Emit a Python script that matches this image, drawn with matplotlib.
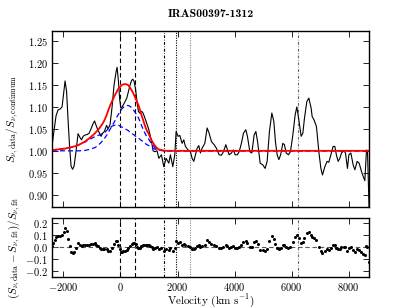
import numpy as np
import matplotlib
matplotlib.use("Agg")
import matplotlib.pyplot as plt

plt.rcParams['font.family'] = 'cmr10'
plt.rcParams['mathtext.fontset'] = 'cm'
plt.rcParams['axes.formatter.use_mathtext'] = True
plt.rcParams['axes.unicode_minus'] = True

# velocity grid of the spectrum (km/s)
vel = [-2410, -2365, -2312, -2260, -2190, -2119, -2049, -1997, -1944, -1891,
       -1839, -1786, -1733, -1681, -1628, -1558, -1488, -1418, -1365, -1312,
       -1242, -1172, -1102, -1032, -962, -909, -856, -797, -733, -681,
       -628, -565, -488, -435, -365, -295, -225, -154, -119, -74,
       -32, 11, 56, 102, 161, 221, 277, 337, 389, 432,
       477, 530, 582, 628, 670, 723, 775, 828, 881, 933,
       986, 1039, 1091, 1144, 1204, 1284, 1344, 1435, 1519, 1600,
       1695, 1751, 1835, 1905, 1951, 2021, 2081, 2162, 2221, 2277,
       2372, 2453, 2512, 2572, 2628, 2688, 2747, 2804, 2863, 2958,
       3039, 3109, 3190, 3284, 3365, 3460, 3541, 3611, 3695, 3751,
       3811, 3891, 3962, 4021, 4102, 4162, 4242, 4313, 4397, 4453,
       4537, 4607, 4688, 4748, 4811, 4899, 4993, 5074, 5144, 5225,
       5309, 5379, 5435, 5495, 5555, 5618, 5695, 5751, 5811, 5892,
       5962, 6046, 6127, 6186, 6257, 6337, 6397, 6453, 6537, 6607,
       6688, 6723, 6793, 6874, 6958, 7029, 7085, 7169, 7248, 7308,
       7379, 7459, 7519, 7575, 7635, 7695, 7751, 7836, 7892, 7962,
       8011, 8081, 8162, 8222, 8302, 8372, 8453, 8513, 8572, 8629,
       8664, 8720]

# normalised flux
flux = [1.005, 1.03, 1.055, 1.08, 1.093, 1.095, 1.10, 1.13, 1.159, 1.135,
        1.07, 1.01, 0.965, 0.958, 0.965, 1.00, 1.039, 1.03, 1.025, 1.033,
        1.036, 1.037, 1.04, 1.05, 1.062, 1.068, 1.058, 1.048, 1.04, 1.033,
        1.04, 1.044, 1.058, 1.05, 1.06, 1.10, 1.15, 1.18, 1.19, 1.16,
        1.12, 1.097, 1.10, 1.105, 1.112, 1.12, 1.135, 1.15, 1.16, 1.163,
        1.158, 1.14, 1.11, 1.09, 1.086, 1.09, 1.088, 1.08, 1.07, 1.06,
        1.05, 1.036, 1.02, 1.0, 0.998, 1.0, 0.983, 0.991, 0.964, 0.983,
        0.972, 0.991, 0.964, 0.991, 1.044, 1.033, 1.035, 1.017, 1.025, 1.01,
        1.002, 0.998, 0.983, 0.976, 0.991, 1.006, 1.012, 0.995, 1.006, 1.017,
        1.052, 1.04, 1.021, 1.014, 1.006, 0.991, 0.99, 0.998, 1.014, 1.003,
        0.991, 0.995, 1.002, 0.991, 0.991, 0.998, 1.017, 1.04, 1.048, 1.033,
        0.998, 0.995, 1.036, 1.044, 1.02, 0.972, 0.968, 0.96, 0.976, 1.044,
        1.086, 1.067, 1.021, 0.991, 0.98, 0.991, 1.017, 1.014, 0.995, 0.991,
        0.998, 1.036, 1.082, 1.10, 1.07, 1.033, 1.04, 1.074, 1.112, 1.12,
        1.097, 1.078, 1.07, 1.055, 0.998, 0.96, 0.945, 0.964, 0.976, 0.974,
        0.991, 1.01, 1.01, 0.99, 0.976, 0.983, 0.995, 1.0, 0.995, 0.96,
        0.991, 0.995, 0.968, 0.957, 0.976, 0.972, 0.953, 0.942, 0.932, 1.002,
        1.0, 0.87]

# fitted components (excess above continuum), first part of grid
narrow = [0, 0, 0, 0, 0, 0, 0, 0, 0, 0,
          0, 0, 0, 0, 0, 0, 0, 0, 0.001, 0.001,
          0.001, 0.002, 0.003, 0.004, 0.006, 0.007, 0.009, 0.012, 0.016, 0.019,
          0.023, 0.028, 0.035, 0.041, 0.049, 0.057, 0.065, 0.073, 0.078, 0.083,
          0.088, 0.092, 0.096, 0.099, 0.102, 0.103, 0.103, 0.101, 0.098, 0.095,
          0.091, 0.086, 0.080, 0.075, 0.069, 0.060, 0.052, 0.044, 0.037, 0.031,
          0.027, 0.021, 0.016, 0.012, 0.008, 0.004, 0.002, 0.001, 0, 0,
          0, 0]
broad = [0.002, 0.002, 0.002, 0.003, 0.003, 0.004, 0.004, 0.005, 0.005, 0.006,
         0.007, 0.007, 0.008, 0.009, 0.010, 0.011, 0.013, 0.015, 0.016, 0.018,
         0.020, 0.023, 0.025, 0.028, 0.030, 0.032, 0.034, 0.035, 0.036, 0.038,
         0.039, 0.041, 0.046, 0.050, 0.054, 0.056, 0.058, 0.059, 0.058, 0.058,
         0.057, 0.055, 0.054, 0.052, 0.050, 0.048, 0.046, 0.042, 0.040, 0.038,
         0.036, 0.033, 0.031, 0.029, 0.027, 0.024, 0.022, 0.019, 0.016, 0.014,
         0.012, 0.010, 0.008, 0.006, 0.004, 0.002, 0.001, 0.001, 0.0005, 0,
         0, 0]

# marked velocities: (position, linestyle, colour)
dashdot = (0, (2.5, 1.5, 0.6, 1.5))
vlines = [(0, (0, (4, 2.5)), 'k'), (523, (0, (4, 2.5)), 'k'),
          (1540, dashdot, 'k'), (1940, (0, (1, 1.2)), 'k'),
          (2432, (0, (1, 1.2)), '0.55'), (6222, dashdot, '0.4')]

vel = np.array(vel, dtype=float)
flux = np.array(flux)
comp1 = np.ones_like(vel)
comp2 = np.ones_like(vel)
comp1[:len(narrow)] += np.array(narrow)
comp2[:len(broad)] += np.array(broad)
model = comp1 + comp2 - 1
resid = (flux - model) / model

fig = plt.figure(figsize=(4.11, 3.08), dpi=100)
ax1 = fig.add_axes([0.126, 0.329, 0.772, 0.571])
ax2 = fig.add_axes([0.126, 0.102, 0.772, 0.189])

for ax in (ax1, ax2):
    for x, ls, c in vlines:
        ax.axvline(x, ls=ls, color=c, lw=0.8)

ax1.plot(vel, flux, color='k', lw=0.8)
ax1.plot(vel, comp1, color='b', ls=(0, (4, 2.5)), lw=0.9)
ax1.plot(vel, comp2, color='b', ls=(0, (4, 2.5)), lw=0.9)
ax1.plot(vel, model, color='r', lw=1.3)

ax2.axhline(0, color='0.35', ls=(0, (4, 2.5)), lw=0.8)
ax2.plot(vel, resid, 'o', color='k', ms=2.2, mew=0)

ax1.set_xlim(-2410, 8720)
ax2.set_xlim(-2410, 8720)
ax1.set_ylim(0.873, 1.273)
ax2.set_ylim(-0.25, 0.235)
ax1.set_yticks(np.arange(0.90, 1.26, 0.05))
ax2.set_yticks([-0.2, -0.1, 0.0, 0.1, 0.2])
ax1.set_xticks(np.arange(-2000, 8001, 2000))
ax2.set_xticks(np.arange(-2000, 8001, 2000))
ax1.tick_params(labelbottom=False)

for ax in (ax1, ax2):
    ax.tick_params(direction='in', top=True, right=True, length=4,
                   width=0.6, labelsize=7.5, pad=3)
    for s in ax.spines.values():
        s.set_linewidth(1.0)

ax1.set_title('IRAS00397-1312', fontfamily='cmb10', fontsize=8.5, pad=10)
ax1.set_ylabel(r'$S_{\nu,\mathrm{data}}/S_{\nu,\mathrm{continuum}}$',
               fontsize=8, labelpad=5)
ax2.set_ylabel(r'$(S_{\nu,\mathrm{data}}-S_{\nu,\mathrm{fit}})/S_{\nu,\mathrm{fit}}$',
               fontsize=8, labelpad=1)
ax2.set_xlabel(r'Velocity (km s$^{-1}$)', fontsize=8)
ax2.xaxis.set_label_coords(0.5, -0.27)

fig.savefig('out.png', dpi=100)
